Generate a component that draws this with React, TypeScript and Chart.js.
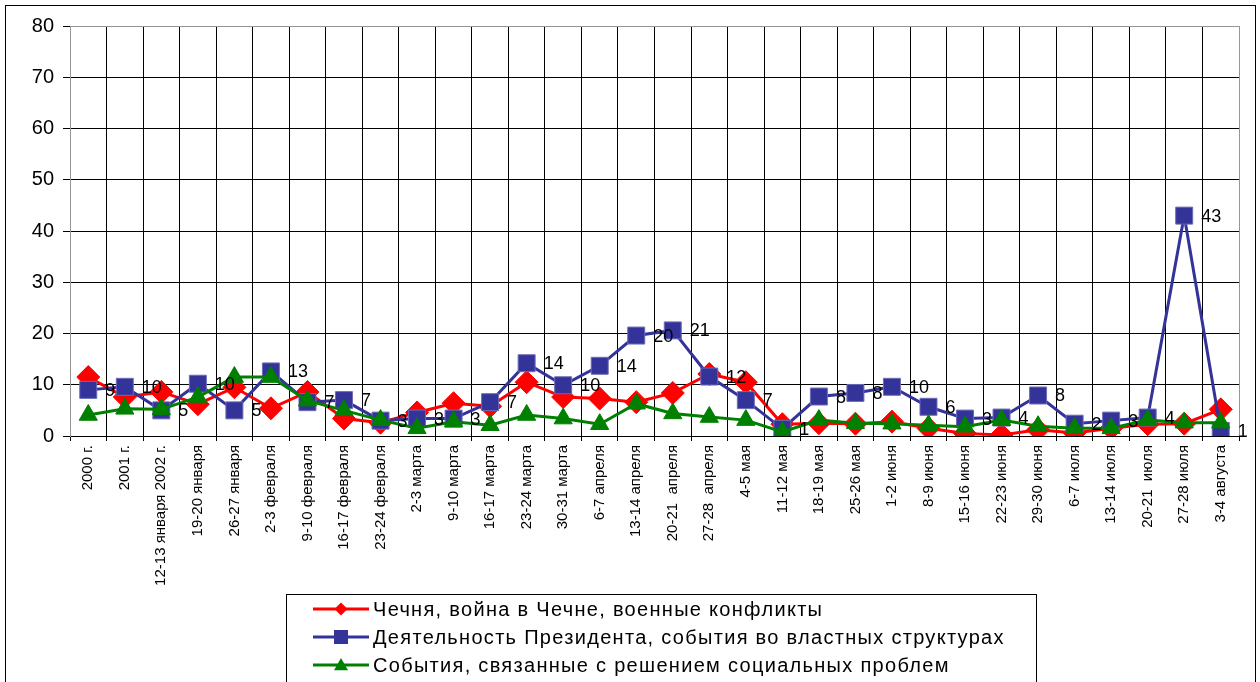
import React, { useEffect, useRef } from 'react';
import { Chart, registerables } from 'chart.js';

Chart.register(...registerables);

const categories = [
  '2000 г.', '2001 г.', '12-13 января 2002 г.', '19-20 января', '26-27 января',
  '2-3 февраля', '9-10 февраля', '16-17 февраля', '23-24 февраля', '2-3 марта',
  '9-10 марта', '16-17 марта', '23-24 марта', '30-31 марта', '6-7 апреля',
  '13-14 апреля', '20-21  апреля', '27-28  апреля', '4-5 мая', '11-12 мая',
  '18-19 мая', '25-26 мая', '1-2 июня', '8-9 июня', '15-16 июня',
  '22-23 июня', '29-30 июня', '6-7 июля', '13-14 июля', '20-21  июля',
  '27-28 июля', '3-4 августа',
];

const chechnyaValues = [
  11.5, 7.6, 8.6, 6.2, 9.5, 5.4, 8.6, 3.4, 2.6, 4.6,
  6.4, 5.8, 10.5, 7.6, 7.3, 6.6, 8.4, 12.1, 10.5, 2.3,
  2.5, 2.4, 2.8, 1.5, 0.5, 0.2, 1.2, 0.6, 1.5, 2.3,
  2.4, 5.2,
];

const presidentValues = [
  9.0, 9.6, 5.0, 10.2, 5.0, 12.6, 6.6, 7.0, 3.0, 3.4,
  3.4, 6.6, 14.2, 9.9, 13.7, 19.6, 20.6, 11.6, 7.0, 1.4,
  7.7, 8.4, 9.6, 5.7, 3.4, 3.6, 7.9, 2.4, 3.0, 3.6,
  43.0, 1.0,
];

const socialValues = [
  4.1, 5.3, 5.2, 7.6, 11.5, 11.5, 6.9, 5.0, 3.1, 1.5,
  2.8, 2.1, 4.1, 3.4, 2.3, 6.3, 4.4, 3.7, 3.1, 0.8,
  3.1, 2.5, 2.4, 2.1, 1.8, 3.1, 1.9, 1.5, 1.5, 3.1,
  2.6, 2.6,
];

const seriesNames = [
  'Чечня, война в Чечне, военные конфликты',
  'Деятельность Президента, события во властных структурах',
  'События, связанные с решением социальных проблем',
];

const yMin = 0;
const yMax = 80;
const yStep = 10;

const RED = '#FF0000';
const BLUE = '#333399';
const GREEN = '#008000';
const GRAY = '#969696';
const FONT = '"Liberation Sans", Arial, sans-serif';

function drawMarker(ctx: CanvasRenderingContext2D, style: string, x: number, y: number, r: number, color: string) {
  ctx.beginPath();
  if (style === 'diamond') {
    ctx.moveTo(x, y - r);
    ctx.lineTo(x + r, y);
    ctx.lineTo(x, y + r);
    ctx.lineTo(x - r, y);
  } else if (style === 'square') {
    ctx.rect(x - r, y - r, 2 * r, 2 * r);
  } else {
    ctx.moveTo(x, y - r);
    ctx.lineTo(x + r, y + r * 0.75);
    ctx.lineTo(x - r, y + r * 0.75);
  }
  ctx.closePath();
  ctx.fillStyle = color;
  ctx.fill();
}

const framePlugin = {
  id: 'frame',
  beforeDraw(chart: any) {
    const ctx = chart.ctx;
    ctx.save();
    ctx.fillStyle = '#fff';
    ctx.fillRect(0, 0, chart.width, chart.height);
    ctx.strokeStyle = '#000';
    ctx.lineWidth = 1;
    ctx.strokeRect(5.5, 5.5, 1250, 720);
    ctx.restore();
  },
};

const labelPlugin = {
  id: 'blueLabels',
  afterDatasetsDraw(chart: any) {
    const ctx = chart.ctx;
    const meta = chart.getDatasetMeta(1);
    ctx.save();
    ctx.fillStyle = '#000';
    ctx.font = `18px ${FONT}`;
    ctx.textAlign = 'left';
    ctx.textBaseline = 'middle';
    meta.data.forEach((pt: any, i: number) => {
      const v = presidentValues[i];
      ctx.fillText(String(Math.round(v)), pt.x + 17, pt.y + 1);
    });
    ctx.restore();
  },
};

const legendPlugin = {
  id: 'customLegend',
  afterDraw(chart: any) {
    const ctx = chart.ctx;
    ctx.save();
    ctx.strokeStyle = '#000';
    ctx.lineWidth = 1;
    ctx.strokeRect(286.5, 594.5, 750, 200);
    const styles = [
      { color: RED, marker: 'diamond', r: 6.5 },
      { color: BLUE, marker: 'square', r: 7 },
      { color: GREEN, marker: 'triangle', r: 7 },
    ];
    seriesNames.forEach((name, i) => {
      const y = 609 + i * 28;
      const s = styles[i];
      ctx.strokeStyle = s.color;
      ctx.lineWidth = 3;
      ctx.beginPath();
      ctx.moveTo(313, y);
      ctx.lineTo(369, y);
      ctx.stroke();
      drawMarker(ctx, s.marker, 341, y, s.r, s.color);
      ctx.fillStyle = '#000';
      ctx.font = `20px ${FONT}`;
      (ctx as any).letterSpacing = '1.3px';
      ctx.textAlign = 'left';
      ctx.textBaseline = 'middle';
      ctx.fillText(name, 373, y + 1);
      (ctx as any).letterSpacing = '0px';
    });
    ctx.restore();
  },
};

export default function App() {
  const canvasRef = useRef<HTMLCanvasElement | null>(null);

  useEffect(() => {
    document.body.style.margin = '0';
    const canvas = canvasRef.current;
    if (!canvas) return;
    const chart = new Chart(canvas, {
      type: 'line',
      data: {
        labels: categories,
        datasets: [
          {
            label: seriesNames[0],
            data: chechnyaValues,
            borderColor: RED,
            backgroundColor: RED,
            borderWidth: 3,
            pointStyle: 'rectRot',
            pointRadius: 11.5,
            pointBackgroundColor: RED,
            pointBorderColor: RED,
            pointBorderWidth: 1,
            tension: 0,
            order: 2,
          },
          {
            label: seriesNames[1],
            data: presidentValues,
            borderColor: BLUE,
            backgroundColor: BLUE,
            borderWidth: 3,
            pointStyle: 'rect',
            pointRadius: 12,
            pointBackgroundColor: BLUE,
            pointBorderColor: '#6b6bb8',
            pointBorderWidth: 1,
            tension: 0,
            order: 1,
          },
          {
            label: seriesNames[2],
            data: socialValues,
            borderColor: GREEN,
            backgroundColor: GREEN,
            borderWidth: 3,
            pointStyle: 'triangle',
            pointRadius: 10.5,
            pointBackgroundColor: GREEN,
            pointBorderColor: GREEN,
            pointBorderWidth: 1,
            tension: 0,
            order: 0,
          },
        ],
      },
      options: {
        responsive: false,
        animation: false,
        devicePixelRatio: 1,
        layout: { padding: { left: 0, top: 26, right: 21, bottom: 0 } },
        plugins: {
          legend: { display: false },
          tooltip: { enabled: false },
        },
        scales: {
          x: {
            type: 'category',
            offset: true,
            grid: {
              offset: true,
              color: (c: any) => (c.index === undefined || c.index === 0 ? GRAY : '#000'),
              lineWidth: 1,
              drawTicks: true,
              tickLength: 5,
              tickColor: '#000',
            },
            border: { display: true, color: '#000', width: 1 },
            ticks: {
              autoSkip: false,
              minRotation: 90,
              maxRotation: 90,
              padding: 4,
              color: '#000',
              font: { family: FONT, size: 15 },
            },
            afterFit: (s: any) => {
              s.height = 682 - 436;
            },
          },
          y: {
            min: yMin,
            max: yMax,
            ticks: {
              stepSize: yStep,
              padding: 9,
              color: '#000',
              font: { family: FONT, size: 20 },
            },
            grid: {
              color: (c: any) => (c.tick && c.tick.value === yMax ? GRAY : '#000'),
              lineWidth: 1,
              tickLength: 7,
              tickColor: '#000',
            },
            border: { display: true, color: GRAY, width: 1 },
            afterFit: (s: any) => {
              s.width = 70;
            },
          },
        },
      },
      plugins: [framePlugin, labelPlugin, legendPlugin],
    } as any);
    return () => chart.destroy();
  }, []);

  return (
    <div style={{ position: 'fixed', left: 0, top: 0, width: 1260, height: 682 }}>
      <canvas ref={canvasRef} width={1260} height={682} style={{ width: 1260, height: 682 }} />
    </div>
  );
}
